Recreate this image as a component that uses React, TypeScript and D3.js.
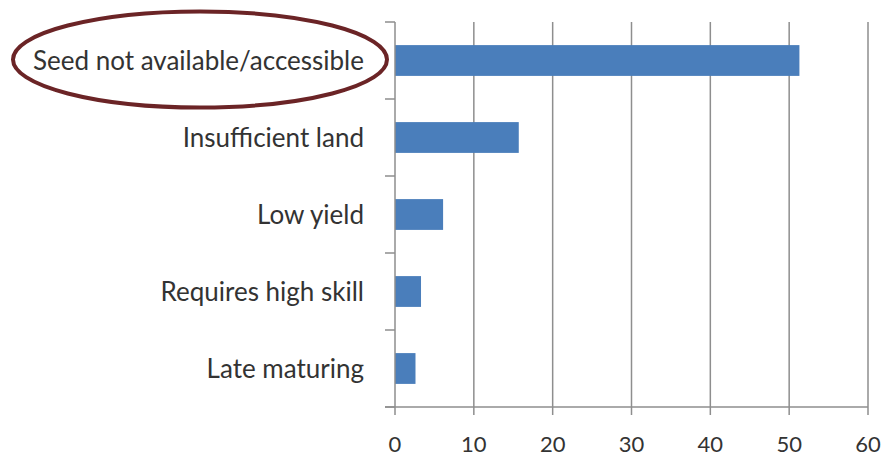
import React from "react";
import * as d3 from "d3";

const categories = [
  "Seed not available/accessible",
  "Insufficient land",
  "Low yield",
  "Requires high skill",
  "Late maturing",
];
const values = [51.3, 15.7, 6.1, 3.3, 2.6];
const xTicks = [0, 10, 20, 30, 40, 50, 60];

const W = 885;
const H = 457;
const plot = { left: 395, right: 868, top: 22, bottom: 407 };
const FONT = "Lato, 'Open Sans', sans-serif";

export default function App() {
  const x = d3.scaleLinear().domain([0, 60]).range([plot.left, plot.right]);
  const y = d3
    .scaleBand<string>()
    .domain(categories)
    .range([plot.top, plot.bottom])
    .paddingInner(0.6)
    .paddingOuter(0.3);
  const step = y.step();
  const boundaries = d3.range(categories.length + 1).map((i) => plot.top + i * step);
  const gridColor = "#8e8e8e";

  const first = categories[0];
  const cy = (y(first) ?? 0) + y.bandwidth() / 2;

  return (
    <svg
      width={W}
      height={H}
      style={{ position: "absolute", left: 0, top: 0, background: "#fff" }}
    >
      {/* vertical gridlines */}
      {xTicks.slice(1).map((t) => (
        <line
          key={"g" + t}
          x1={x(t)}
          x2={x(t)}
          y1={plot.top}
          y2={plot.bottom}
          stroke={gridColor}
          strokeWidth={1.5}
        />
      ))}
      {/* bars */}
      {categories.map((c, i) => (
        <rect
          key={c}
          x={x(0)}
          y={y(c)}
          width={x(values[i]) - x(0)}
          height={y.bandwidth()}
          fill="#4a7ebb"
        />
      ))}
      {/* category axis */}
      <line x1={plot.left} x2={plot.left} y1={plot.top} y2={plot.bottom} stroke={gridColor} strokeWidth={1.5} />
      {boundaries.map((b, i) => (
        <line key={"ct" + i} x1={plot.left - 10} x2={plot.left} y1={b} y2={b} stroke={gridColor} strokeWidth={1.5} />
      ))}
      {/* value axis */}
      <line x1={plot.left - 10} x2={plot.right} y1={plot.bottom} y2={plot.bottom} stroke={gridColor} strokeWidth={1.5} />
      {xTicks.map((t) => (
        <g key={"t" + t}>
          <line x1={x(t)} x2={x(t)} y1={plot.bottom} y2={plot.bottom + 8} stroke={gridColor} strokeWidth={1.5} />
          <text
            x={x(t)}
            y={452}
            textAnchor="middle"
            fontFamily={FONT}
            fontSize={22}
            fill="#333"
          >
            {t}
          </text>
        </g>
      ))}
      {/* category labels */}
      {categories.map((c) => (
        <text
          key={"l" + c}
          x={364}
          y={(y(c) ?? 0) + y.bandwidth() / 2}
          dy="0.35em"
          textAnchor="end"
          fontFamily={FONT}
          fontSize={26}
          fill="#333"
        >
          {c}
        </text>
      ))}
      {/* highlight ring around the top category */}
      <ellipse
        cx={200}
        cy={cy - 1}
        rx={187}
        ry={48}
        fill="none"
        stroke="#6b2426"
        strokeWidth={4}
      />
    </svg>
  );
}
